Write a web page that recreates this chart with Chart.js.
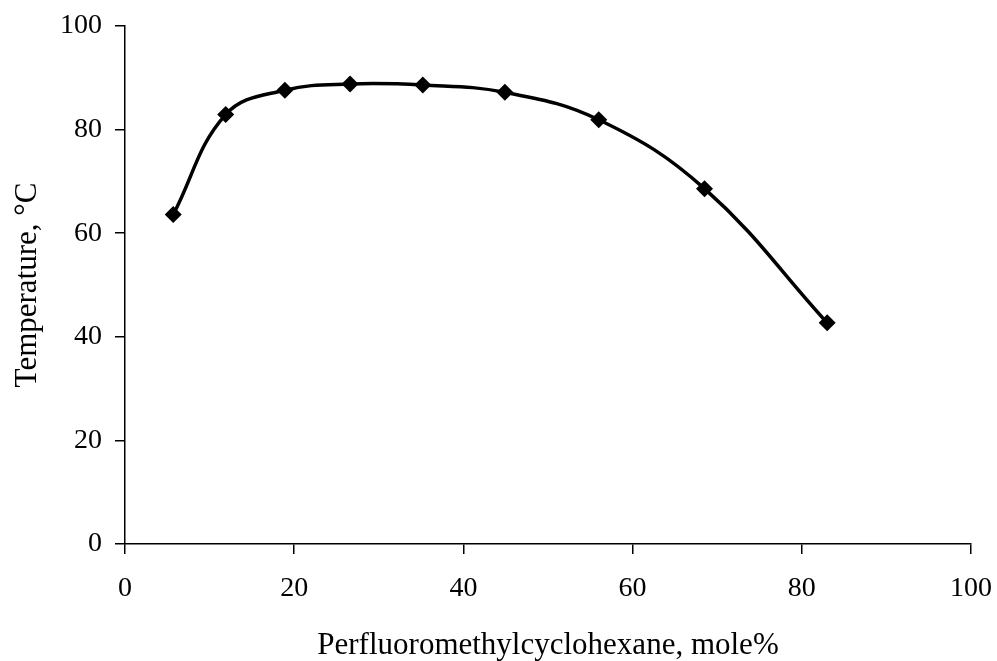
<!DOCTYPE html>
<html>
<head>
<meta charset="utf-8">
<script src="https://cdn.jsdelivr.net/npm/chart.js@4"></script>
<style>
html,body{margin:0;padding:0;background:#fff;}
#wrap{width:997px;height:661px;}
</style>
</head>
<body>
<div id="wrap"><canvas id="c" width="997" height="661"></canvas></div>
<script>
const xValues = [5.7, 11.9, 18.9, 26.6, 35.2, 44.9, 56.0, 68.5, 83.0];
const yValues = [63.6, 82.9, 87.6, 88.8, 88.6, 87.2, 81.9, 68.6, 42.7];
const xTitle = 'Perfluoromethylcyclohexane, mole%';
const yTitle = 'Temperature, \u00B0C';

const points = xValues.map((x, i) => ({x: x, y: yValues[i]}));
const FONT = 'Liberation Serif, Times New Roman, serif';

new Chart(document.getElementById('c'), {
  type: 'scatter',
  data: {
    datasets: [{
      data: points,
      showLine: true,
      tension: 0.4,
      borderColor: '#000',
      borderWidth: 3.5,
      backgroundColor: '#000',
      pointStyle: 'rectRot',
      pointRadius: 8.5,
      pointBorderWidth: 0,
      pointBackgroundColor: '#000',
      pointBorderColor: '#000'
    }]
  },
  options: {
    responsive: false,
    animation: false,
    devicePixelRatio: 1,
    layout: {padding: {left: 0, right: 26, top: 26, bottom: 0}},
    plugins: {legend: {display: false}, tooltip: {enabled: false}},
    scales: {
      x: {
        type: 'linear', min: 0, max: 100,
        ticks: {stepSize: 20, color: '#000', font: {family: FONT, size: 28}, padding: 18, maxRotation: 0},
        grid: {drawOnChartArea: false, drawTicks: true, tickLength: 10, color: '#000', lineWidth: 1.5},
        border: {color: '#000', width: 1.5},
        title: {display: true, text: xTitle, color: '#000', font: {family: FONT, size: 31, lineHeight: 1.0}, padding: {top: 0, bottom: 0}},
        afterFit: (s) => { s.height = 117; s.paddingRight = 0; s.paddingLeft = 0; }
      },
      y: {
        type: 'linear', min: 0, max: 100,
        ticks: {stepSize: 20, color: '#000', font: {family: FONT, size: 28}, padding: 13},
        grid: {drawOnChartArea: false, drawTicks: true, tickLength: 10, color: '#000', lineWidth: 1.5},
        border: {color: '#000', width: 1.5},
        title: {display: true, text: yTitle, color: '#000', font: {family: FONT, size: 31}, padding: {top: 9, bottom: 0}},
        afterFit: (s) => { s.width = 125; s.paddingTop = 0; s.paddingBottom = 0; }
      }
    }
  }
});
</script>
</body>
</html>
